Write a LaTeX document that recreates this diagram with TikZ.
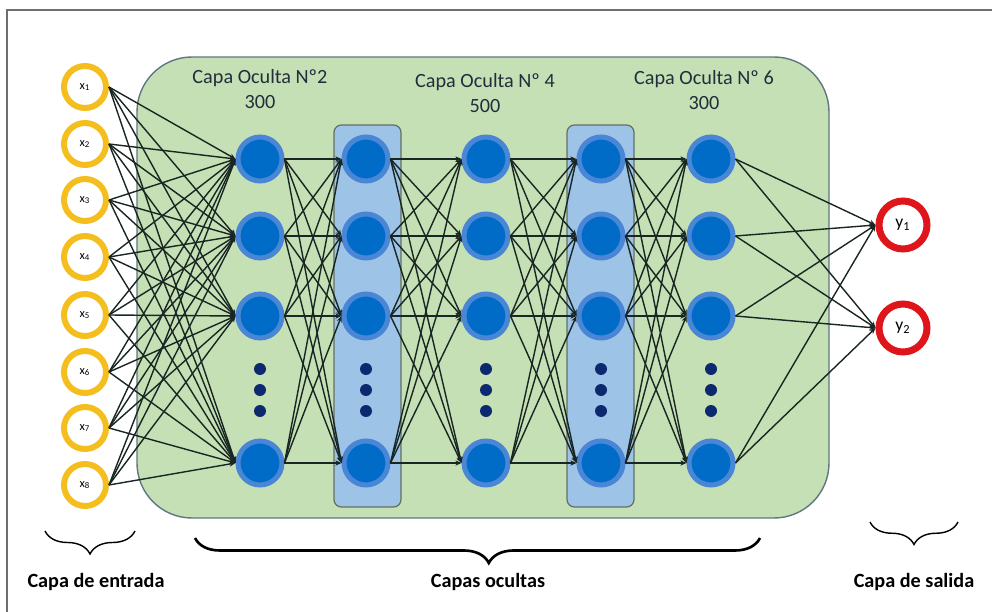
\documentclass[tikz,border=0pt]{standalone}
\usepackage{fontspec}
\setmainfont{Carlito}
\usetikzlibrary{arrows.meta, positioning, calc, decorations.pathreplacing}
\definecolor{rnverde}{RGB}{197, 224, 180}
\definecolor{rnbordeverde}{RGB}{96, 118, 128}
\definecolor{rnceleste}{RGB}{157, 195, 230}
\definecolor{rnbordeceleste}{RGB}{100, 112, 100}
\definecolor{rnazul}{RGB}{0, 108, 200}
\definecolor{rnaro}{RGB}{74, 134, 214}
\definecolor{rnoro}{RGB}{244, 190, 30}
\definecolor{rnrojo}{RGB}{222, 22, 28}
\definecolor{rntexto}{RGB}{35, 45, 60}
\definecolor{rnpunto}{RGB}{12, 40, 110}
\definecolor{rnlinea}{RGB}{25, 38, 35}
\definecolor{rnmarco}{RGB}{110, 110, 110}

\tikzset{
  entrada/.style={circle, draw=rnoro, line width=0.12cm, fill=white,
    minimum size=0.84cm, inner sep=0pt, font=\fontsize{7}{8}\selectfont},
  oculta/.style={circle, draw=rnaro, line width=0.1cm, fill=rnazul,
    minimum size=0.88cm, inner sep=0pt},
  salida/.style={circle, draw=rnrojo, line width=0.14cm, fill=white,
    minimum size=0.96cm, inner sep=0pt, font=\fontsize{10}{12}\selectfont},
  conexion/.style={-{Stealth[length=3.5pt, width=3pt]}, line width=0.8pt, rnlinea},
  titulo/.style={text=rntexto, font=\fontsize{11.5}{14.2}\selectfont, align=center},
  etiqueta/.style={font=\bfseries\fontsize{11.5}{14}\selectfont},
  llave/.style={decorate, decoration={brace, mirror, amplitude=0.46cm}, line width=0.8pt}
}

\begin{document}
\begin{tikzpicture}[x=0.02cm, y=-0.02cm, >=Stealth]
\useasboundingbox (0,0) rectangle (992,612);

% === Marco ===
\draw[rnmarco, line width=1pt] (7,612) -- (7,10) -- (992,10);

% === Capas ocultas (fondo) ===
\draw[fill=rnverde, draw=rnbordeverde, line width=0.8pt, rounded corners=1.1cm]
    (137,57) rectangle (829,518);
\draw[fill=rnceleste, draw=rnbordeceleste, line width=0.7pt, rounded corners=0.15cm]
    (334,125) rectangle (401,507);
\draw[fill=rnceleste, draw=rnbordeceleste, line width=0.7pt, rounded corners=0.15cm]
    (567,125) rectangle (634,507);

\node[titulo] (t2) at (260,89) {Capa Oculta Nº2\\300};
\node[titulo] (t4) at (485,93) {Capa Oculta Nº 4\\500};
\node[titulo] (t6) at (704,90) {Capa Oculta Nº 6\\300};

% === Capa de entrada ===
\foreach \y [count=\i] in {87,144,200,257,315,372,428,485}
    \node[entrada] (x\i) at (85,\y) {x\textsubscript{\i}};

% === Neuronas ocultas ===
\foreach \x [count=\c] in {260,366,486,601,711} {
    \foreach \y [count=\f] in {159,236,316,463}
        \node[oculta] (h\c-\f) at (\x,\y) {};
    % puntos suspensivos
    \foreach \y in {369,390,411}
        \fill[rnpunto] (\x,\y) circle (6);
}

% === Capa de salida ===
\node[salida] (s1) at (903,225) {y\textsubscript{1}};
\node[salida] (s2) at (903,328) {y\textsubscript{2}};

% === Conexiones ===
\foreach \i in {1,...,8}
    \foreach \f in {1,...,4}
        \draw[conexion] (x\i.east) -- (h1-\f.west);

\foreach \c [evaluate=\c as \n using int(\c+1)] in {1,...,4}
    \foreach \f in {1,...,4}
        \foreach \g in {1,...,4}
            \draw[conexion] (h\c-\f.east) -- (h\n-\g.west);

\foreach \f in {1,...,4}
    \foreach \s in {1,2}
        \draw[conexion] (h5-\f.east) -- (s\s.west);

% === Llaves y etiquetas ===
\draw[llave] (45,531) -- (135,531);
\draw[llave, line width=1.5pt, decoration={aspect=0.52, amplitude=0.5cm}] (195,538) -- (760,538);
\draw[llave, decoration={amplitude=0.45cm}] (870,522) -- (958,522);

\node[etiqueta] (e1) at (96,582) {Capa de entrada};
\node[etiqueta] (e2) at (488,582) {Capas ocultas};
\node[etiqueta] (e3) at (914,582) {Capa de salida};

\end{tikzpicture}
\end{document}
